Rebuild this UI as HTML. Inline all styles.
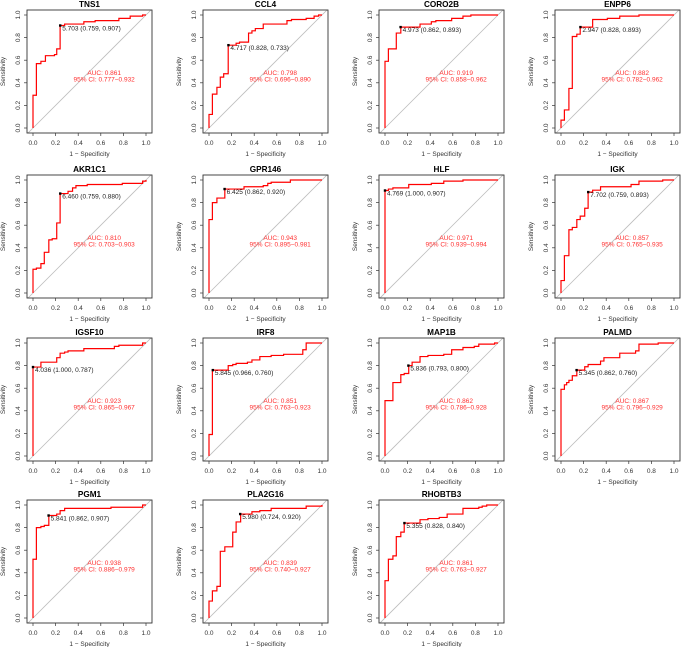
<!DOCTYPE html>
<html><head><meta charset="utf-8">
<style>
html,body{margin:0;padding:0;background:#fff;}
svg{display:block;font-family:"Liberation Sans",Arial,sans-serif;}
</style></head>
<body>
<svg id="fig" width="685" height="647" viewBox="0 0 685 647" xmlns="http://www.w3.org/2000/svg"></svg>
<script>
const genes = ["TNS1","CCL4","CORO2B","ENPP6","AKR1C1","GPR146","HLF","IGK","IGSF10","IRF8","MAP1B","PALMD","PGM1","PLA2G16","RHOBTB3"];
const fprs = [
 [0,0.03,0.07,0.11,0.19,0.21,0.24,0.28,0.45,0.55,0.76,0.86,0.97,1],
 [0,0.03,0.07,0.10,0.13,0.17,0.24,0.27,0.35,0.38,0.41,0.48,0.69,0.73,0.86,0.93,0.97,1],
 [0,0.03,0.10,0.14,0.31,0.41,0.45,0.59,0.69,0.76,1],
 [0,0.03,0.07,0.10,0.14,0.17,0.28,0.41,0.52,0.69,1],
 [0,0.03,0.07,0.10,0.14,0.17,0.21,0.24,0.31,0.35,0.38,0.48,0.79,0.97,1],
 [0,0.03,0.07,0.14,0.31,0.48,0.52,0.55,0.72,1],
 [0,0.03,0.07,0.21,0.41,0.52,0.69,1],
 [0,0.03,0.07,0.10,0.14,0.17,0.21,0.24,0.28,0.35,0.62,0.69,0.90,1],
 [0,0.07,0.21,0.24,0.28,0.31,0.45,0.72,0.76,0.97,1],
 [0,0.03,0.17,0.21,0.24,0.34,0.38,0.45,0.55,0.66,0.83,0.86,1],
 [0,0.07,0.14,0.17,0.21,0.24,0.31,0.38,0.52,0.59,0.69,0.79,0.83,0.97,1],
 [0,0.03,0.05,0.07,0.10,0.14,0.21,0.24,0.35,0.38,0.52,0.66,0.69,0.86,1],
 [0,0.03,0.07,0.10,0.14,0.21,0.24,0.28,0.69,0.97,1],
 [0,0.03,0.07,0.10,0.14,0.21,0.24,0.28,0.38,0.45,0.55,0.86,1],
 [0,0.03,0.07,0.10,0.14,0.17,0.31,0.38,0.48,0.55,0.69,0.83,0.86,0.90,1]
];
const tprs = [
 [0.29,0.57,0.59,0.64,0.65,0.70,0.907,0.92,0.94,0.95,0.97,0.99,1,1],
 [0.12,0.30,0.36,0.45,0.48,0.733,0.75,0.76,0.84,0.86,0.88,0.92,0.95,0.96,0.97,0.99,1,1],
 [0.59,0.70,0.84,0.893,0.92,0.94,0.95,0.97,0.99,1,1],
 [0.07,0.16,0.35,0.81,0.83,0.893,0.96,0.97,0.99,1,1],
 [0.21,0.22,0.26,0.36,0.47,0.48,0.62,0.88,0.90,0.93,0.95,0.96,0.97,0.99,1],
 [0.65,0.80,0.84,0.92,0.94,0.95,0.97,0.98,1,1],
 [0.907,0.92,0.93,0.96,0.97,0.99,1,1],
 [0.11,0.33,0.56,0.58,0.65,0.68,0.75,0.893,0.91,0.94,0.96,0.99,1,1],
 [0.787,0.83,0.87,0.91,0.92,0.93,0.95,0.97,0.98,1,1],
 [0.19,0.76,0.80,0.81,0.82,0.83,0.85,0.88,0.89,0.90,0.94,1,1],
 [0.49,0.65,0.72,0.73,0.80,0.83,0.88,0.89,0.90,0.94,0.96,0.97,0.99,1,1],
 [0.59,0.63,0.65,0.67,0.71,0.76,0.79,0.81,0.84,0.87,0.91,0.93,0.99,1,1],
 [0.52,0.80,0.81,0.82,0.907,0.92,0.95,0.97,0.98,1,1],
 [0.15,0.24,0.28,0.59,0.63,0.76,0.85,0.92,0.94,0.95,0.97,0.99,1],
 [0.33,0.52,0.55,0.72,0.76,0.84,0.87,0.88,0.89,0.92,0.97,0.98,0.99,1,1]
];
const cutLabels = ["5.703 (0.759, 0.907)","4.717 (0.828, 0.733)","4.973 (0.862, 0.893)","2.947 (0.828, 0.893)","6.460 (0.759, 0.880)","6.425 (0.862, 0.920)","4.769 (1.000, 0.907)","7.702 (0.759, 0.893)","4.036 (1.000, 0.787)","5.845 (0.966, 0.760)","5.836 (0.793, 0.800)","5.345 (0.862, 0.760)","5.841 (0.862, 0.907)","5.980 (0.724, 0.920)","5.355 (0.828, 0.840)"];
const cutFpr = [0.241,0.172,0.138,0.172,0.241,0.138,0.0,0.241,0.0,0.034,0.207,0.138,0.138,0.276,0.172];
const cutTpr = [0.907,0.733,0.893,0.893,0.880,0.920,0.907,0.893,0.787,0.760,0.800,0.760,0.907,0.920,0.840];
const aucs = ["0.861","0.798","0.919","0.882","0.810","0.943","0.971","0.857","0.923","0.851","0.862","0.867","0.938","0.839","0.861"];
const cis = ["0.777\u22120.932","0.696\u22120.890","0.858\u22120.962","0.782\u22120.962","0.703\u22120.903","0.895\u22120.981","0.939\u22120.994","0.765\u22120.935","0.865\u22120.967","0.763\u22120.923","0.786\u22120.928","0.796\u22120.929","0.886\u22120.979","0.740\u22120.927","0.763\u22120.927"];
const ticks = [0,0.2,0.4,0.6,0.8,1.0];
const tickLabels = ["0.0","0.2","0.4","0.6","0.8","1.0"];

const NS = "http://www.w3.org/2000/svg";
const svg = document.getElementById("fig");
const colX = [33,209,385,561];
const rowTop = [15,180,343,505];
const W = 113, H = 113;
function mk(tag, attrs, parent){const e=document.createElementNS(NS,tag);for(const k in attrs)e.setAttribute(k,attrs[k]);parent.appendChild(e);return e;}

genes.forEach((g,i)=>{
  const x0 = colX[i%4], top = rowTop[Math.floor(i/4)], y0 = top+H;
  const sx = v => x0 + v*W, sy = v => y0 - v*H;
  const grp = mk("g",{},svg);
  
  
  const bx0=x0-6, bx1=x0+W+6, by0=top-5, by1=y0+5;
  const clipId="c"+i;
  const cp=mk("clipPath",{id:clipId},grp); mk("rect",{x:bx0,y:by0,width:bx1-bx0,height:by1-by0},cp);
  // diagonal
  const diag = mk("line",{x1:sx(-0.06),y1:sy(-0.06),x2:sx(1.06),y2:sy(1.06),stroke:"#bdbdbd","stroke-width":0.8,"clip-path":"url(#"+clipId+")"},grp);
  
  
  // box
  const box = mk("rect",{x:bx0,y:by0,width:bx1-bx0,height:by1-by0,fill:"none",stroke:"#333","stroke-width":0.9},grp);
  
  
  // title
  const t = mk("text",{x:(bx0+bx1)/2,y:top-8,"text-anchor":"middle","font-size":"8.2","font-weight":"bold",fill:"#000"},grp);
  t.textContent = g;
  
  
  // ticks
  ticks.forEach((v,k)=>{
    mk("line",{x1:sx(v),y1:by1,x2:sx(v),y2:by1+3,stroke:"#333","stroke-width":0.7},grp);
    const xl = mk("text",{x:sx(v),y:by1+12,"text-anchor":"middle","font-size":"6.5",fill:"#333"},grp);
    xl.textContent = tickLabels[k];
    
    
    mk("line",{x1:bx0,y1:sy(v),x2:bx0-3,y2:sy(v),stroke:"#333","stroke-width":0.7},grp);
    const yl = mk("text",{x:bx0-7,y:sy(v),"text-anchor":"middle","font-size":"6.5",fill:"#333",transform:"rotate(-90 "+(bx0-7)+" "+sy(v)+")"},grp);
    yl.textContent = tickLabels[k];
    
    
  });
  const xt = mk("text",{x:(bx0+bx1)/2,y:by1+23,"text-anchor":"middle","font-size":"6.5",fill:"#333"},grp);
  xt.textContent = "1 \u2212 Specificity";
  
  
  const ycx = bx0-22, ycy=(by0+by1)/2;
  const yt = mk("text",{x:ycx,y:ycy,"text-anchor":"middle","font-size":"6.5",fill:"#333",transform:"rotate(-90 "+ycx+" "+ycy+")"},grp);
  yt.textContent = "Sensitivity";
  
  
  // roc curve
  let d = "M"+sx(0)+","+sy(0), py=0;
  fprs[i].forEach((f,k)=>{ d += " L"+sx(f)+","+sy(py)+" L"+sx(f)+","+sy(tprs[i][k]); py=tprs[i][k]; });
  const curve = mk("path",{d:d,fill:"none",stroke:"#ff0000","stroke-width":1.2},grp);
  
  
  // cutoff
  const pt = mk("rect",{x:sx(cutFpr[i])-1.2,y:sy(cutTpr[i])-1.2,width:2.4,height:2.4,fill:"#000"},grp);
  
  
  const cl = mk("text",{x:sx(cutFpr[i])+2,y:sy(cutTpr[i])+5,"font-size":"6.5",fill:"#222"},grp);
  cl.textContent = cutLabels[i];
  
  
  const a = mk("text",{x:sx(0.63),y:sy(0.47),"text-anchor":"middle","font-size":"6.5",fill:"#ff3030"},grp);
  a.textContent = "AUC: "+aucs[i];
  
  
  const c = mk("text",{x:sx(0.63),y:sy(0.41),"text-anchor":"middle","font-size":"6.5",fill:"#ff3030"},grp);
  c.textContent = "95% CI: "+cis[i];
  
  
});
</script>
</body></html>
